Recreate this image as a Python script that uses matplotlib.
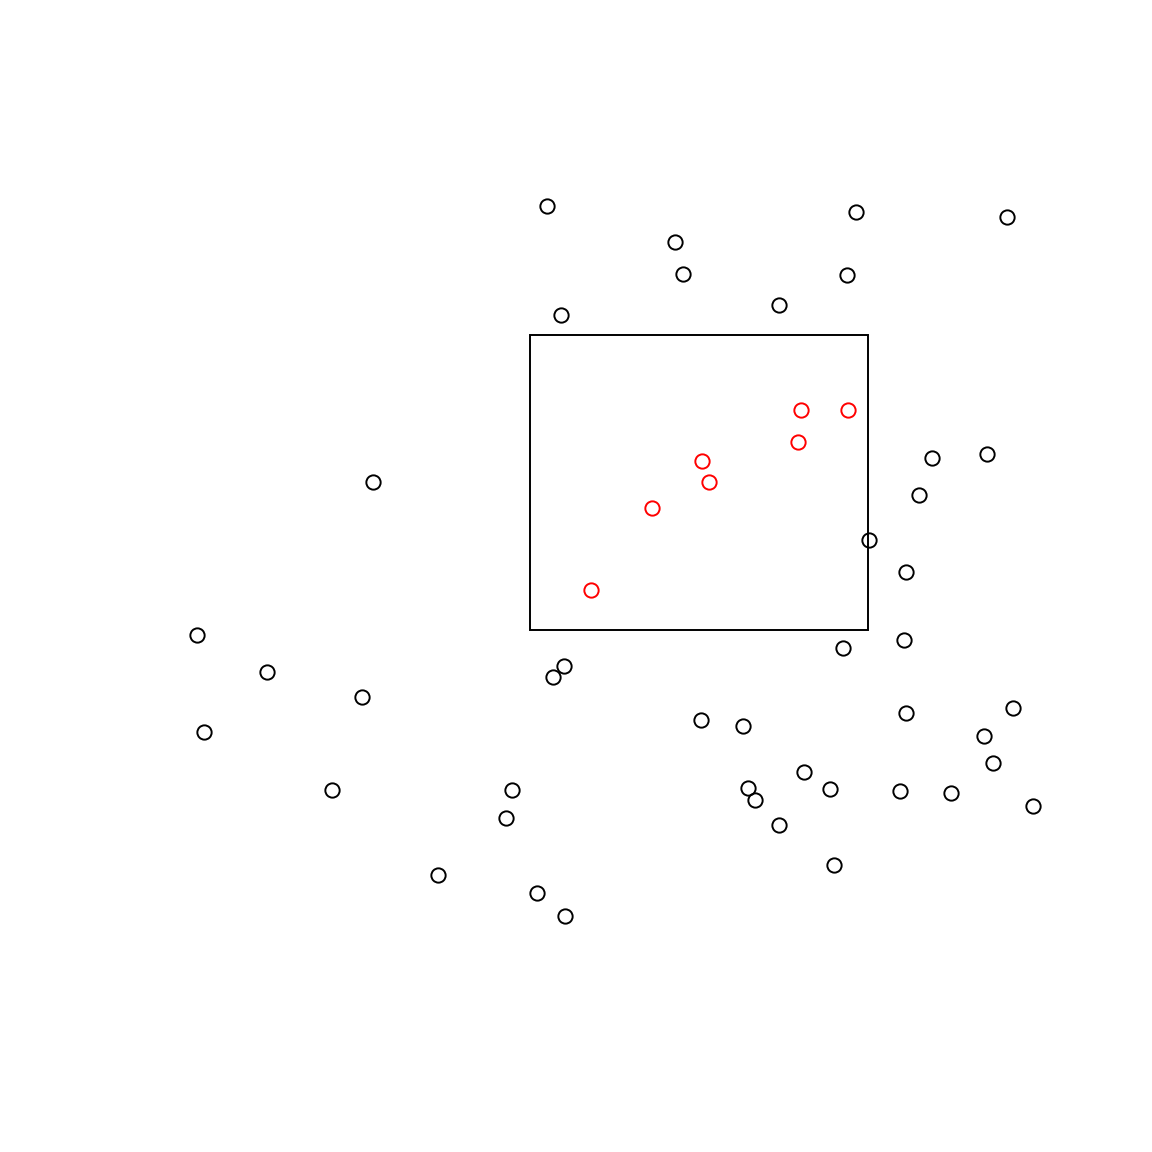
import matplotlib
matplotlib.use("Agg")
import matplotlib.pyplot as plt
from matplotlib.patches import Rectangle

# Data (units: horizontal/vertical position in a 0..1152 plotting space, y upward)
black_x = [547, 856, 1007, 675, 683, 847, 779, 561,
           373, 932, 987, 919, 869, 906,
           197, 904, 843, 267, 564, 553, 362,
           204, 701, 743, 906, 1013, 984, 993,
           804, 332, 512, 748, 755, 830, 900, 951, 1033,
           506, 779, 834, 438, 537, 565]
black_y_img = [206, 212, 217, 242, 274, 275, 305, 315,
               482, 458, 454, 495, 540, 572,
               635, 640, 648, 672, 666, 677, 697,
               732, 720, 726, 713, 708, 736, 763,
               772, 790, 790, 788, 800, 789, 791, 793, 806,
               818, 825, 865, 875, 893, 916]
red_x = [801, 848, 798, 702, 709, 652, 591]
red_y_img = [410, 410, 442, 461, 482, 508, 590]

rect_x0, rect_x1 = 530, 868
rect_y0_img, rect_y1_img = 630, 335

H = 1152
black_y = [H - v for v in black_y_img]
red_y = [H - v for v in red_y_img]

fig = plt.figure(figsize=(11.52, 11.52), dpi=100)
ax = fig.add_axes([0, 0, 1, 1])
ax.set_xlim(0, 1152)
ax.set_ylim(0, 1152)
ax.axis("off")

ax.plot(black_x, black_y, linestyle="none", marker="o", markersize=10.3,
        markerfacecolor="none", markeredgecolor="black", markeredgewidth=1.4)
ax.plot(red_x, red_y, linestyle="none", marker="o", markersize=10.3,
        markerfacecolor="none", markeredgecolor="red", markeredgewidth=1.4)

ax.add_patch(Rectangle((rect_x0, H - rect_y0_img), rect_x1 - rect_x0,
                       rect_y0_img - rect_y1_img, fill=False,
                       edgecolor="black", linewidth=1.4))

fig.savefig("out.png", dpi=100, facecolor="white")
